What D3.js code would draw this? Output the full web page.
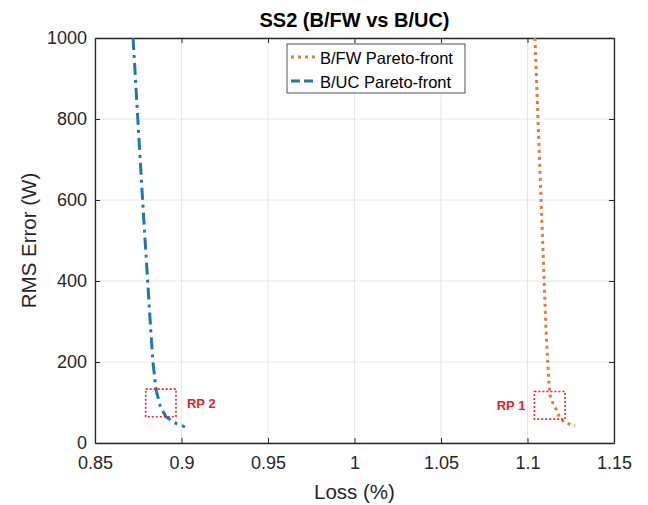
<!DOCTYPE html>
<html>
<head>
<meta charset="utf-8">
<script src="https://cdn.jsdelivr.net/npm/d3@7"></script>
<style>
  body { margin: 0; background: #fff; }
  text { font-family: "Liberation Sans", Arial, sans-serif; }
</style>
</head>
<body>
<div id="display-container"></div>
<script>
// data
var xTicks = [0.85, 0.9, 0.95, 1, 1.05, 1.1, 1.15];
var yTicks = [0, 200, 400, 600, 800, 1000];

var ucLoss = [0.872, 0.8775, 0.8822, 0.8835, 0.8853, 0.8878, 0.891, 0.896, 0.902];
var ucRms  = [1000, 600, 280, 200, 131, 90, 65, 50, 40];

var fwLoss = [1.1043, 1.1065, 1.1107, 1.1117, 1.1124, 1.113, 1.1146, 1.1165, 1.119, 1.1227, 1.1275];
var fwRms  = [1000, 753, 279, 201, 148, 118, 99, 84, 59, 49, 43];

// reference point boxes [x0, x1, y0, y1]
var rp2Box = [0.8793, 0.8968, 65, 133];
var rp1Box = [1.104, 1.1217, 59, 127];

var width = 648, height = 505;
var margin = {top: 38, right: 34, bottom: 62, left: 95};

var svg = d3.select("#display-container").append("svg")
    .attr("width", width)
    .attr("height", height);

var x = d3.scaleLinear().domain([0.85, 1.15]).range([margin.left, width - margin.right]);
var y = d3.scaleLinear().domain([0, 1000]).range([height - margin.bottom, margin.top]);

var blue = "#1f77b0";
var orange = "#e07b39";

// grid
svg.append("g").selectAll("line.gx")
    .data(xTicks).enter().append("line")
    .attr("x1", function(d){ return x(d); }).attr("x2", function(d){ return x(d); })
    .attr("y1", y(0)).attr("y2", y(1000))
    .style("stroke", "#e6e6e6").style("stroke-width", 1);
svg.append("g").selectAll("line.gy")
    .data(yTicks).enter().append("line")
    .attr("y1", function(d){ return y(d); }).attr("y2", function(d){ return y(d); })
    .attr("x1", x(0.85)).attr("x2", x(1.15))
    .style("stroke", "#e6e6e6").style("stroke-width", 1);

// axes
svg.append("g")
    .attr("transform", "translate(0," + y(0) + ")")
    .call(d3.axisBottom(x).tickValues(xTicks).tickSizeInner(-5).tickSizeOuter(0).tickPadding(13)
        .tickFormat(function(d){ return String(d); }));
svg.append("g")
    .attr("transform", "translate(" + x(0.85) + ",0)")
    .call(d3.axisLeft(y).tickValues(yTicks).tickSizeInner(-5).tickSizeOuter(0).tickPadding(8)
        .tickFormat(d3.format("d")));
svg.append("g")
    .attr("transform", "translate(0," + y(1000) + ")")
    .call(d3.axisTop(x).tickValues(xTicks).tickSizeInner(-5).tickSizeOuter(0).tickFormat(""));
svg.append("g")
    .attr("transform", "translate(" + x(1.15) + ",0)")
    .call(d3.axisRight(y).tickValues(yTicks).tickSizeInner(-5).tickSizeOuter(0).tickFormat(""));

svg.selectAll(".domain").style("stroke", "#262626").style("stroke-width", 1.3);
svg.selectAll(".tick line").style("stroke", "#262626");
svg.selectAll(".tick text").style("font-size", "18px").style("fill", "#262626")
    .style("font-family", "'Liberation Sans', Arial, sans-serif");

// lines
var line = d3.line()
    .x(function(d){ return x(d[0]); })
    .y(function(d){ return y(d[1]); });

svg.append("path")
    .datum(d3.zip(ucLoss, ucRms))
    .attr("d", line)
    .style("fill", "none").style("stroke", blue).style("stroke-width", 3)
    .style("stroke-dasharray", "12,5,3,5");

svg.append("path")
    .datum(d3.zip(fwLoss, fwRms))
    .attr("d", line)
    .style("fill", "none").style("stroke", orange).style("stroke-width", 3)
    .style("stroke-dasharray", "3,4");

// RP boxes
function rpBox(b, label, lx, anchor){
    svg.append("rect")
        .attr("x", x(b[0])).attr("y", y(b[3]))
        .attr("width", x(b[1]) - x(b[0])).attr("height", y(b[2]) - y(b[3]))
        .style("fill", "none").style("stroke", "#e8202a").style("stroke-width", 1.6)
        .style("stroke-dasharray", "2,2");
    svg.append("text")
        .attr("x", lx).attr("y", y((b[2] + b[3]) / 2) + 5)
        .style("text-anchor", anchor)
        .style("font-size", "13px").style("font-weight", "bold").style("fill", "#e8202a")
        .text(label);
}
rpBox(rp2Box, "RP 2", x(rp2Box[1]) + 11, "start");
rpBox(rp1Box, "RP 1", x(rp1Box[0]) - 9, "end");

// legend
var lg = svg.append("g");
lg.append("rect")
    .attr("x", 287).attr("y", 44).attr("width", 178).attr("height", 49)
    .style("fill", "#fff").style("stroke", "#262626").style("stroke-width", 0.8);
var legendItems = [
    {label: "B/FW Pareto-front", color: orange, dash: "3,4", yy: 57},
    {label: "B/UC Pareto-front", color: blue, dash: "9,4", yy: 81}
];
legendItems.forEach(function(it){
    lg.append("line")
        .attr("x1", 291).attr("x2", 315).attr("y1", it.yy).attr("y2", it.yy)
        .style("stroke", it.color).style("stroke-width", 3).style("stroke-dasharray", it.dash);
    lg.append("text")
        .attr("x", 320).attr("y", it.yy + 6.5)
        .style("font-size", "16.5px").style("fill", "#000")
        .text(it.label);
});

// titles
svg.append("text")
    .attr("x", (x(0.85) + x(1.15)) / 2).attr("y", 27)
    .style("text-anchor", "middle").style("font-size", "20px").style("font-weight", "bold")
    .style("fill", "#000")
    .text("SS2 (B/FW vs B/UC)");
svg.append("text")
    .attr("x", (x(0.85) + x(1.15)) / 2).attr("y", 499)
    .style("text-anchor", "middle").style("font-size", "20.5px").style("fill", "#262626")
    .text("Loss (%)");
svg.append("text")
    .attr("transform", "translate(36," + (y(0) + y(1000)) / 2 + ") rotate(-90)")
    .style("text-anchor", "middle").style("font-size", "20.5px").style("fill", "#262626")
    .text("RMS Error (W)");
</script>
</body>
</html>
